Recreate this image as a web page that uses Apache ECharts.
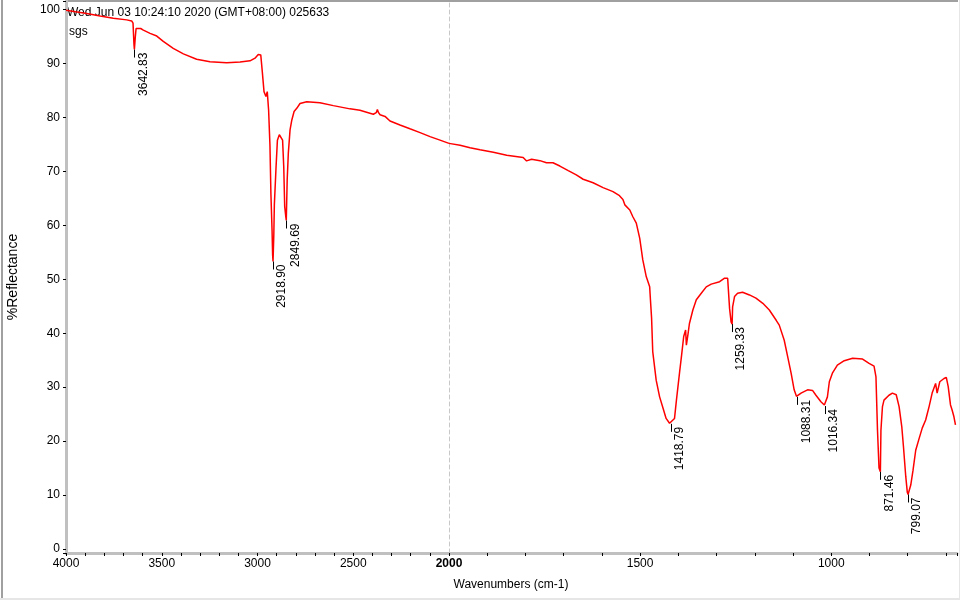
<!DOCTYPE html>
<html>
<head>
<meta charset="utf-8">
<title>FTIR spectrum</title>
<script src="https://cdn.jsdelivr.net/npm/echarts/dist/echarts.min.js"></script>
<style>
  html, body { margin: 0; padding: 0; background: #ffffff; }
  #chart { width: 960px; height: 600px; }
</style>
</head>
<body>
<div id="chart"></div>
<script>
// ---------- data ----------
const wavenumbers = [
  4000, 3950, 3892, 3822, 3753, 3683, 3657, 3650, 3645, 3642.83, 3638, 3634, 3628, 3610, 3596,
  3561, 3526, 3492, 3440, 3387, 3318, 3248, 3161, 3091, 3039, 3013, 2996, 2983, 2975, 2966,
  2956, 2949, 2942, 2935, 2930, 2924, 2921, 2918.9, 2915, 2912, 2903, 2896, 2886, 2876, 2869,
  2863, 2858, 2852, 2849.69, 2845, 2839, 2830, 2821, 2809, 2795, 2778, 2743, 2674, 2604, 2517,
  2465, 2413, 2395, 2380, 2374, 2368, 2360, 2334, 2308, 2256, 2204, 2151, 2099, 2047, 2000,
  1971, 1945, 1919, 1884, 1849, 1806, 1797, 1784, 1762, 1745, 1728, 1710, 1688, 1667, 1649,
  1623, 1597, 1571, 1554, 1545, 1540, 1527, 1519, 1510, 1501, 1493, 1484, 1475, 1473, 1470,
  1467, 1458, 1449, 1440, 1432, 1423, 1418.79, 1410, 1405, 1397, 1392, 1386, 1381, 1379, 1375,
  1371, 1362, 1353, 1340, 1327, 1314, 1292, 1279, 1271, 1266, 1262, 1259.33, 1258, 1253, 1245,
  1232, 1214, 1197, 1179, 1162, 1144, 1136, 1123, 1114, 1105, 1097, 1091, 1088.31, 1079, 1062,
  1049, 1040, 1027, 1018, 1016.34, 1010, 1005, 997, 984, 966, 944, 918, 901, 888, 883,
  879, 875, 871.46, 870, 866, 862, 849, 840, 830, 822.5, 815.5, 811, 805, 801, 799.07,
  792, 786, 779, 770, 762, 753, 744, 736, 727, 723, 716, 705, 699, 694, 688,
  684, 679, 675
];
const reflectance = [
  99.9, 99.6, 99.3, 98.8, 98.4, 98.1, 97.9, 97.5, 93.5, 92.6, 95.0, 96.5, 96.7, 96.5, 96.2,
  95.6, 95.1, 94.1, 92.8, 91.8, 90.8, 90.35, 90.15, 90.3, 90.5, 91.0, 91.7, 91.6, 88.5, 84.8,
  83.9, 84.8, 81.4, 74.9, 65.9, 59.1, 54.5, 53.3, 58.0, 63.8, 70.9, 75.8, 76.8, 76.6, 75.8,
  70.9, 63.5, 61.5, 60.9, 68.4, 73.4, 77.7, 79.5, 81.1, 81.7, 82.6, 82.9, 82.75, 82.2, 81.6,
  81.35, 80.8, 80.6, 80.9, 81.5, 80.9, 80.5, 80.2, 79.35, 78.6, 77.9, 77.2, 76.45, 75.8, 75.2,
  74.85, 74.4, 74.0, 73.55, 73.0, 72.6, 71.95, 72.25, 72.0, 71.6, 71.6, 71.0, 70.15, 69.35, 68.55,
  67.9, 67.0, 66.25, 65.5, 64.8, 63.8, 62.85, 61.6, 60.4, 57.6, 53.6, 50.5, 48.6, 46.2, 42.8,
  36.6, 31.3, 28.2, 26.1, 24.2, 23.3, 23.2, 24.2, 27.6, 32.6, 35.6, 39.4, 40.6, 37.8, 39.7,
  41.8, 44.3, 46.2, 47.4, 48.6, 49.1, 49.55, 50.2, 50.2, 44.6, 42.1, 41.7, 44.9, 46.8, 47.4,
  47.6, 47.1, 46.5, 45.55, 44.3, 42.4, 41.5, 38.7, 35.65, 32.6, 29.5, 28.3, 28.2, 28.9, 29.5,
  29.4, 28.5, 27.3, 26.7, 26.5, 28.2, 31.0, 32.6, 34.1, 34.9, 35.35, 35.2, 34.4, 33.9, 31.9,
  22.0, 15.0, 14.3, 22.0, 26.4, 27.6, 28.5, 28.9, 28.6, 26.4, 22.7, 18.9, 13.4, 10.5, 10.1,
  11.85, 14.6, 18.3, 20.5, 22.4, 23.9, 26.4, 28.9, 30.7, 28.9, 31.0, 31.6, 31.8, 30.1, 26.7,
  25.8, 24.5, 23.0
];
const peakWavenumbers = [3642.83, 2918.90, 2849.69, 1418.79, 1259.33, 1088.31, 1016.34, 871.46, 799.07];
const peakReflectance = [92.6, 53.3, 60.9, 23.2, 41.7, 28.2, 26.5, 14.3, 10.1];
const peakLabels = ['3642.83', '2918.90', '2849.69', '1418.79', '1259.33', '1088.31', '1016.34', '871.46', '799.07'];
const xTickLabels = [4000, 3500, 3000, 2500, 2000, 1500, 1000];
const yTickLabels = [0, 10, 20, 30, 40, 50, 60, 70, 80, 90, 100];
const headerText = 'Wed Jun 03 10:24:10 2020 (GMT+08:00) 025633';
const sampleText = 'sgs';
const xAxisTitle = 'Wavenumbers (cm-1)';
const yAxisTitle = '%Reflectance';
const splitWavenumber = 2000;

// ---------- build ----------
const FONT = '"Liberation Sans", Arial, sans-serif';
const pairs = wavenumbers.map((w, i) => [w, reflectance[i]]);
const leftData = pairs.filter(p => p[0] >= splitWavenumber);
const rightData = pairs.filter(p => p[0] <= splitWavenumber);
const peaks = peakWavenumbers.map((w, i) => [w, peakReflectance[i], i]);
const leftPeaks = peaks.filter(p => p[0] >= splitWavenumber);
const rightPeaks = peaks.filter(p => p[0] < splitWavenumber);

function isTick(v, list) { return list.some(t => Math.abs(t - v) < 1e-6); }

const xLabelBase = { color: '#000', fontSize: 12, fontFamily: FONT, margin: 5,
  rich: { b: { fontWeight: 'bold', fontSize: 12, fontFamily: FONT, color: '#000' } } };

const yAxisCommon = { type: 'value', min: -0.75, max: 101.6, minInterval: 10, maxInterval: 10, splitLine: { show: false } };

function peakRenderer(params, api) {
  const p = api.coord([api.value(0), api.value(1)]);
  const idx = api.value(2);
  return {
    type: 'group',
    children: [
      { type: 'line', shape: { x1: Math.round(p[0]) + 0.5, y1: p[1], x2: Math.round(p[0]) + 0.5, y2: p[1] + 8 },
        style: { stroke: '#000', lineWidth: 1 } },
      { type: 'text', x: p[0] + 9, y: p[1] + 3, rotation: Math.PI / 2,
        style: { text: peakLabels[idx], align: 'right', verticalAlign: 'middle',
                 fontSize: 12, fontFamily: FONT, fill: '#000' } }
    ]
  };
}

const chart = echarts.init(document.getElementById('chart'), null, { renderer: 'canvas' });
chart.setOption({
  backgroundColor: '#ffffff',
  animation: false,
  grid: [
    { left: 66, right: 511, top: 1, bottom: 47 },
    { left: 449, right: 2, top: 1, bottom: 47 }
  ],
  xAxis: [
    { gridIndex: 0, type: 'value', inverse: true, min: 2000, max: 4000, interval: 100,
      axisLine: { onZero: false, lineStyle: { color: '#c0c0c0', width: 3 } },
      axisTick: { length: 3, lineStyle: { color: '#000', width: 1 } },
      axisLabel: Object.assign({}, xLabelBase, { showMinLabel: true, showMaxLabel: true,
        formatter: v => isTick(v, xTickLabels) ? (v === splitWavenumber ? '{b|' + v + '}' : String(v)) : '' }),
      splitLine: { show: false } },
    { gridIndex: 1, type: 'value', inverse: true, min: 671, max: 2000, minInterval: 100, maxInterval: 100,
      axisLine: { onZero: false, lineStyle: { color: '#c0c0c0', width: 3 } },
      axisTick: { length: 3, lineStyle: { color: '#000', width: 1 } },
      axisLabel: Object.assign({}, xLabelBase, {
        formatter: v => (isTick(v, xTickLabels) && v !== splitWavenumber) ? String(v) : '' }),
      splitLine: { show: false } }
  ],
  yAxis: [
    Object.assign({ gridIndex: 0,
      name: yAxisTitle, nameLocation: 'middle', nameGap: 46,
      nameTextStyle: { color: '#000', fontSize: 14, fontFamily: FONT },
      axisLine: { show: true, onZero: false, lineStyle: { color: '#c0c0c0', width: 3 } },
      axisTick: { show: true, length: 3, lineStyle: { color: '#000', width: 1 } },
      axisLabel: { color: '#000', fontSize: 12, fontFamily: FONT, margin: 6,
        formatter: v => isTick(v, yTickLabels) ? String(Math.round(v)) : '' } }, yAxisCommon),
    Object.assign({ gridIndex: 1,
      axisLine: { show: true, onZero: false, lineStyle: { color: '#c8c8c8', width: 1, type: [4, 3] } },
      axisTick: { show: false }, axisLabel: { show: false } }, yAxisCommon)
  ],
  graphic: [
    { type: 'line', silent: true, shape: { x1: 66, y1: 1, x2: 958, y2: 1 }, style: { stroke: '#a0a0a0', lineWidth: 2 } },
    { type: 'line', silent: true, shape: { x1: 2, y1: 0, x2: 2, y2: 600 }, style: { stroke: '#a0a0a0', lineWidth: 2 } },
    { type: 'line', silent: true, shape: { x1: 0, y1: 599, x2: 960, y2: 599 }, style: { stroke: '#e6e6e6', lineWidth: 2 } },
    { type: 'line', silent: true, shape: { x1: 959.5, y1: 0, x2: 959.5, y2: 600 }, style: { stroke: '#e6e6e6', lineWidth: 1 } },
    { type: 'text', silent: true, x: 67, y: 13, style: { text: headerText, fill: '#000', fontSize: 12, fontFamily: FONT, align: 'left', verticalAlign: 'middle' } },
    { type: 'text', silent: true, x: 69, y: 32, style: { text: sampleText, fill: '#000', fontSize: 12, fontFamily: FONT, align: 'left', verticalAlign: 'middle' } },
    { type: 'text', silent: true, x: 511, y: 585, style: { text: xAxisTitle, fill: '#000', fontSize: 12, fontFamily: FONT, align: 'center', verticalAlign: 'middle' } }
  ],
  series: [
    { type: 'line', xAxisIndex: 0, yAxisIndex: 0, data: leftData, showSymbol: false, symbol: 'none',
      lineStyle: { color: '#ff0000', width: 1.5 }, z: 3 },
    { type: 'line', xAxisIndex: 1, yAxisIndex: 1, data: rightData, showSymbol: false, symbol: 'none',
      lineStyle: { color: '#ff0000', width: 1.5 }, z: 3 },
    { type: 'custom', xAxisIndex: 0, yAxisIndex: 0, data: leftPeaks, renderItem: peakRenderer, z: 4 },
    { type: 'custom', xAxisIndex: 1, yAxisIndex: 1, data: rightPeaks, renderItem: peakRenderer, z: 4 }
  ]
});
</script>
</body>
</html>
